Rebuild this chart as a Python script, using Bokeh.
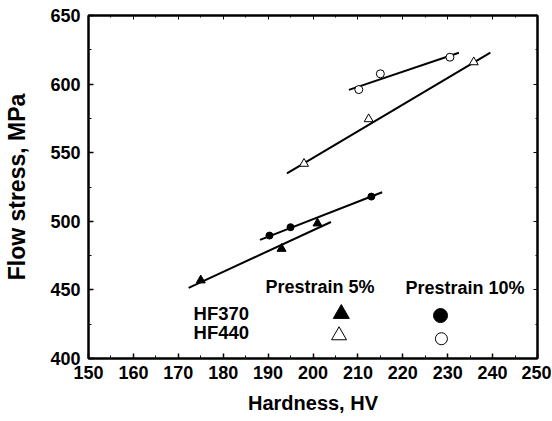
from bokeh.plotting import figure
from bokeh.models import Range1d, LinearAxis, SingleIntervalTicker, CustomJSTickFormatter
from bokeh.core.properties import value
from bokeh.embed import file_html
from bokeh.resources import INLINE

# ---- data ----
hf370_5_hv = [175, 193, 201]
hf370_5_fs = [457, 480, 498.5]
hf370_10_hv = [190.3, 195, 213]
hf370_10_fs = [489.6, 495.7, 518]
hf440_5_hv = [198, 212.4, 235.8]
hf440_5_fs = [542, 574.5, 616]
hf440_10_hv = [210.2, 215, 230.5]
hf440_10_fs = [596, 607.5, 619.6]

# fitted lines (end points)
hf370_5_fit_hv = [172.3, 204]
hf370_5_fit_fs = [451.5, 499.5]
hf370_10_fit_hv = [188.2, 215.4]
hf370_10_fit_fs = [486.5, 521.2]
hf440_5_fit_hv = [194.2, 239.5]
hf440_5_fit_fs = [535, 623]
hf440_10_fit_hv = [208, 232.5]
hf440_10_fit_fs = [595.8, 622.8]

# legend table (in data units)
col_titles = ["Prestrain 5%", "Prestrain 10%"]
col_title_x = [189.4, 220.6]
col_title_y = [452.0, 451.5]
row_titles = ["HF370", "HF440"]
row_title_x = [173.4, 173.4]
row_title_y = [432.6, 418.7]
leg_tri_x = [206.3, 205.8]
leg_tri_y = [432.6, 416.8]
leg_cir_x = [228.4, 228.6]
leg_cir_y = [431.3, 414.4]

FONT = "Liberation Sans"

p = figure(frame_width=449, frame_height=343,
           x_range=Range1d(150, 250), y_range=Range1d(400, 650),
           output_backend="svg", toolbar_location=None,
           min_border_left=88, min_border_right=14, min_border_top=15,
           min_border_bottom=62, x_axis_label="Hardness, HV",
           y_axis_label="Flow stress, MPa")
p.grid.visible = False
p.outline_line_color = "black"
p.outline_line_width = 2
p.background_fill_color = "white"
p.border_fill_color = "white"

p.xaxis.ticker = SingleIntervalTicker(interval=10, num_minor_ticks=2)
p.yaxis.ticker = SingleIntervalTicker(interval=50, num_minor_ticks=2)

for ax in (p.xaxis[0], p.yaxis[0]):
    ax.axis_line_width = 2
    ax.axis_line_color = "black"
    ax.major_tick_in = 5
    ax.major_tick_out = 0
    ax.minor_tick_in = 3
    ax.minor_tick_out = 0
    ax.major_tick_line_width = 1.5
    ax.minor_tick_line_width = 1
    ax.major_label_text_font = FONT
    ax.major_label_text_font_style = "bold"
    ax.major_label_text_font_size = "18px"
    ax.major_label_text_color = "black"
    ax.axis_label_text_font = FONT
    ax.axis_label_text_font_style = "bold"
    ax.axis_label_text_color = "black"

p.xaxis.axis_label_text_font_size = "20px"
p.yaxis.axis_label_text_font_size = "23px"
p.xaxis.major_label_standoff = 7
p.xaxis.axis_label_standoff = 10
p.yaxis.major_label_standoff = 8
p.yaxis.axis_label_standoff = 17

# top / right axes with inward ticks, no labels
top = LinearAxis(ticker=SingleIntervalTicker(interval=10, num_minor_ticks=2),
                 formatter=CustomJSTickFormatter(code="return ''"))
right = LinearAxis(ticker=SingleIntervalTicker(interval=50, num_minor_ticks=2),
                   formatter=CustomJSTickFormatter(code="return ''"))
for ax in (top, right):
    ax.major_label_standoff = 0
    ax.axis_line_width = 2
    ax.major_tick_in = 4
    ax.major_tick_out = 0
    ax.minor_tick_in = 2
    ax.minor_tick_out = 0
p.add_layout(top, "above")
p.add_layout(right, "right")

# fit lines
for xs, ys in [(hf370_5_fit_hv, hf370_5_fit_fs), (hf370_10_fit_hv, hf370_10_fit_fs),
               (hf440_5_fit_hv, hf440_5_fit_fs), (hf440_10_fit_hv, hf440_10_fit_fs)]:
    p.line(xs, ys, line_color="black", line_width=2)

# data markers
p.scatter(hf370_5_hv, hf370_5_fs, marker="triangle", size=9,
          fill_color="black", line_color="black")
p.scatter(hf370_10_hv, hf370_10_fs, marker="circle", size=7,
          fill_color="black", line_color="black")
p.scatter(hf440_5_hv, hf440_5_fs, marker="triangle", size=9,
          fill_color="white", line_color="black", line_width=1)
p.scatter(hf440_10_hv, hf440_10_fs, marker="circle", size=8,
          fill_color="white", line_color="black", line_width=1)

# legend table
p.text(col_title_x, col_title_y, text=col_titles, text_font=value(FONT),
       text_font_style="bold", text_font_size="18px", text_align="left",
       text_baseline="middle", text_color="black")
p.text(row_title_x, row_title_y, text=row_titles, text_font=value(FONT),
       text_font_style="bold", text_font_size="18.5px", text_align="left",
       text_baseline="middle", text_color="black")
p.scatter([leg_tri_x[0]], [leg_tri_y[0]], marker="triangle", size=16,
          fill_color="black", line_color="black")
p.scatter([leg_tri_x[1]], [leg_tri_y[1]], marker="triangle", size=15,
          fill_color="white", line_color="black", line_width=1)
p.scatter([leg_cir_x[0]], [leg_cir_y[0]], marker="circle", size=14,
          fill_color="black", line_color="black")
p.scatter([leg_cir_x[1]], [leg_cir_y[1]], marker="circle", size=12,
          fill_color="white", line_color="black", line_width=1)

open("out.html", "w").write(file_html(p, INLINE))
